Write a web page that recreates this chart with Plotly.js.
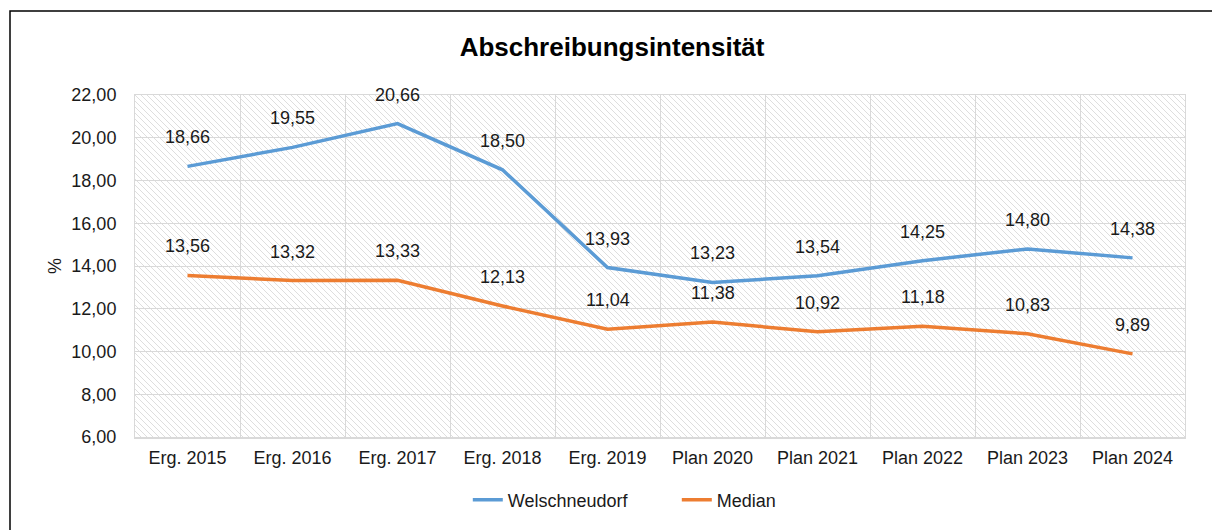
<!DOCTYPE html>
<html>
<head>
<meta charset="utf-8">
<script src="https://cdn.plot.ly/plotly-3.0.1.min.js"></script>
<style>html,body{margin:0;padding:0;background:#fff;}#chart{width:1212px;height:530px;}</style>
</head>
<body>
<div id="chart"></div>
<script>
const categories = ["Erg. 2015","Erg. 2016","Erg. 2017","Erg. 2018","Erg. 2019","Plan 2020","Plan 2021","Plan 2022","Plan 2023","Plan 2024"];
const welschneudorf = [18.66,19.55,20.66,18.50,13.93,13.23,13.54,14.25,14.80,14.38];
const median = [13.56,13.32,13.33,12.13,11.04,11.38,10.92,11.18,10.83,9.89];
const yTicks = [6,8,10,12,14,16,18,20,22];

const fontFam = '"Liberation Sans", Arial, sans-serif';
const blue = '#5B9BD5', orange = '#ED7D31';

const W = 1212, H = 530;
const m = {l:135, r:27, t:95, b:93};
const pw = W - m.l - m.r, ph = H - m.t - m.b;

function fmt(v){ return v.toFixed(2).replace('.', ','); }

const svg = '<svg xmlns="http://www.w3.org/2000/svg" width="'+pw+'" height="'+ph+'">' +
  '<defs><pattern id="p" patternUnits="userSpaceOnUse" width="6" height="6">' +
  '<path d="M0,0 L6,6 M-1,5 L1,7 M5,-1 L7,1" stroke="#dedede" stroke-width="1"/></pattern></defs>' +
  '<rect width="100%" height="100%" fill="#fff"/><rect width="100%" height="100%" fill="url(#p)"/></svg>';
const bgSrc = 'data:image/svg+xml;charset=utf-8,' + encodeURIComponent(svg);

const traces = [
  {x: categories, y: welschneudorf, name: 'Welschneudorf', type: 'scatter', mode: 'lines',
   line: {color: blue, width: 3.5}, hoverinfo: 'skip'},
  {x: categories, y: median, name: 'Median', type: 'scatter', mode: 'lines',
   line: {color: orange, width: 3.5}, hoverinfo: 'skip'}
];

const annotations = [];
[welschneudorf, median].forEach(series => {
  series.forEach((v, i) => {
    annotations.push({x: categories[i], y: v, xref: 'x', yref: 'y', text: fmt(v),
      showarrow: false, yshift: 29, font: {family: fontFam, size: 18, color: '#1a1a1a'}});
  });
});

const layout = {
  width: W, height: H,
  margin: m,
  paper_bgcolor: '#ffffff',
  plot_bgcolor: 'rgba(0,0,0,0)',
  font: {family: fontFam, size: 18, color: '#1a1a1a'},
  title: {text: '<b>Abschreibungsintensität</b>', font: {family: fontFam, size: 26, color: '#000'},
          x: 0.505, xanchor: 'center', xref: 'container', y: 1 - 47/H, yanchor: 'middle', yref: 'container'},
  xaxis: {type: 'category', range: [-0.5, categories.length - 0.5], tickson: 'boundaries', showgrid: true,
          gridcolor: '#d9d9d9', gridwidth: 1,
          showline: true, linecolor: '#d9d9d9', linewidth: 1.5, mirror: true, ticks: '',
          tickfont: {family: fontFam, size: 18, color: '#1a1a1a'}, ticklabelstandoff: 4, fixedrange: true},
  yaxis: {range: [6, 22], tickvals: yTicks, ticktext: yTicks.map(fmt), showgrid: true, gridcolor: '#d9d9d9',
          gridwidth: 1, zeroline: false, showline: true, linecolor: '#d9d9d9', mirror: true, ticks: '',
          tickfont: {family: fontFam, size: 18, color: '#1a1a1a'}, ticklabelstandoff: 14,
          title: {text: '%', font: {family: fontFam, size: 18, color: '#1a1a1a'}, standoff: 5}, fixedrange: true},
  showlegend: true,
  legend: {orientation: 'h', x: 0.516, xanchor: 'center', y: (H - m.b - 500) / ph, yanchor: 'middle',
           font: {family: fontFam, size: 18, color: '#1a1a1a'}, entrywidth: 164, entrywidthmode: 'pixels'},
  images: [{source: bgSrc, xref: 'paper', yref: 'paper', x: 0, y: 1, sizex: 1, sizey: 1,
            sizing: 'stretch', xanchor: 'left', yanchor: 'top', layer: 'below'}],
  shapes: [{type: 'rect', xref: 'paper', yref: 'paper',
            x0: (10 - m.l) / pw, x1: (W + 5 - m.l) / pw,
            y0: (m.t + ph - (H + 5)) / ph, y1: (m.t + ph - 11) / ph,
            line: {color: '#000', width: 1.5}, fillcolor: 'rgba(0,0,0,0)', layer: 'below'}],
  annotations: annotations
};

Plotly.newPlot('chart', traces, layout, {displayModeBar: false, staticPlot: true});
</script>
</body>
</html>
